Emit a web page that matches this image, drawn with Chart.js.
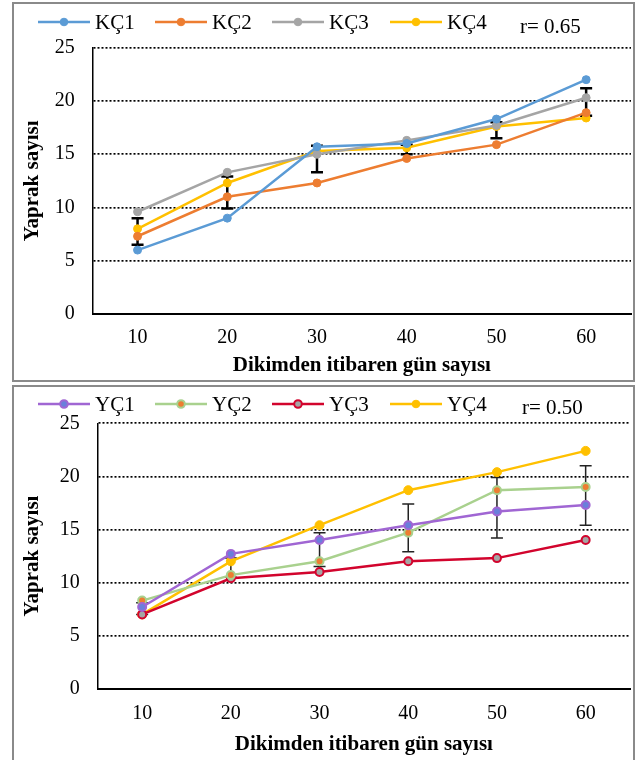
<!DOCTYPE html>
<html><head><meta charset="utf-8">
<script src="https://cdn.jsdelivr.net/npm/chart.js@4.4.0/dist/chart.umd.min.js"></script>
<style>
html,body{margin:0;padding:0;background:#fff;width:636px;height:760px;overflow:hidden;}
#w1{position:absolute;left:0;top:0;width:636px;height:383px;}
#w2{position:absolute;left:0;top:383px;width:636px;height:377px;}
.panel{position:absolute;border:2px solid #8a8a8a;box-sizing:border-box;pointer-events:none;}
</style></head><body>
<div id="w1"><canvas id="c1" width="636" height="383"></canvas></div>
<div id="w2"><canvas id="c2" width="636" height="377"></canvas></div>
<div class="panel" style="left:12px;top:2px;width:623px;height:380px"></div>
<div class="panel" style="left:12px;top:385px;width:623px;height:385px"></div>
<script>
// ---- data ----
const days = ['10', '20', '30', '40', '50', '60'];
const yTicks = [0, 5, 10, 15, 20, 25];
const kcLabels = ['KÇ1', 'KÇ2', 'KÇ3', 'KÇ4'];
const kc1 = [6.0, 9.0, 15.7, 16.0, 18.3, 22.0];
const kc2 = [7.3, 11.0, 12.3, 14.6, 15.9, 18.9];
const kc3 = [9.6, 13.3, 15.0, 16.3, 17.7, 20.3];
const kc4 = [8.0, 12.3, 15.3, 15.6, 17.6, 18.4];
const kcErrLow  = [6.5, 9.9, 13.3, 15.0, 16.5, 18.6];
const kcErrHigh = [9.0, 12.9, 15.8, 15.9, 18.0, 21.2];
const kcR = 'r= 0.65';

const ycLabels = ['YÇ1', 'YÇ2', 'YÇ3', 'YÇ4'];
const yc1 = [7.7, 12.7, 14.0, 15.4, 16.7, 17.3];
const yc2 = [8.3, 10.7, 12.0, 14.7, 18.7, 19.0];
const yc3 = [7.0, 10.4, 11.0, 12.0, 12.3, 14.0];
const yc4 = [7.0, 12.0, 15.4, 18.7, 20.4, 22.4];
const ycErrLow  = [7.0, 10.5, 11.5, 12.9, 14.2, 15.4];
const ycErrHigh = [8.1, 12.3, 14.7, 17.4, 19.9, 21.0];
const ycR = 'r= 0.50';

const xTitle = 'Dikimden itibaren gün sayısı';
const yTitle = 'Yaprak sayısı';

Chart.defaults.font.family = "'Liberation Serif', 'Times New Roman', serif";
Chart.defaults.color = '#000';

function errorBarPlugin(low, high, color, width, cap) {
  return {
    id: 'errorBars',
    beforeDatasetsDraw(chart) {
      const {ctx, scales: {x, y}} = chart;
      ctx.save();
      ctx.strokeStyle = color; ctx.lineWidth = width;
      low.forEach((lo, i) => {
        const px = x.getPixelForValue(i);
        const p1 = y.getPixelForValue(lo), p2 = y.getPixelForValue(high[i]);
        ctx.beginPath();
        ctx.moveTo(px, p1); ctx.lineTo(px, p2);
        ctx.moveTo(px - cap, p1); ctx.lineTo(px + cap, p1);
        ctx.moveTo(px - cap, p2); ctx.lineTo(px + cap, p2);
        ctx.stroke();
      });
      ctx.restore();
    }
  };
}

function legendPlugin(xs, ly, rText, rx, ry) {
  return {
    id: 'customLegend',
    afterDraw(chart) {
      const ctx = chart.ctx;
      ctx.save();
      ctx.font = "21px 'Liberation Serif', serif";
      ctx.textBaseline = 'middle';
      ctx.textAlign = 'left';
      chart.data.datasets.forEach((ds, i) => {
        const x0 = xs[i];
        ctx.strokeStyle = ds.borderColor; ctx.lineWidth = 2.5;
        ctx.beginPath(); ctx.moveTo(x0, ly); ctx.lineTo(x0 + 52, ly); ctx.stroke();
        ctx.beginPath(); ctx.arc(x0 + 26, ly, 3.8, 0, Math.PI * 2);
        ctx.fillStyle = ds.pointBackgroundColor; ctx.fill();
        ctx.lineWidth = ds.pointBorderWidth; ctx.strokeStyle = ds.pointBorderColor; ctx.stroke();
        ctx.fillStyle = '#000';
        ctx.fillText(ds.label, x0 + 57, ly + 1);
      });
      ctx.fillText(rText, rx, ry);
      ctx.restore();
    }
  };
}

function ds(label, data, line, fill, border, bw, r) {
  return {label, data, borderColor: line, backgroundColor: line, borderWidth: 2.5,
    pointBackgroundColor: fill, pointBorderColor: border, pointBorderWidth: bw,
    pointRadius: r, pointHoverRadius: r, tension: 0};
}

function makeOptions(cfg) {
  return {
    responsive: false, animation: false,
    layout: {padding: {left: 0, right: cfg.padR, top: cfg.padT, bottom: 0}},
    plugins: {legend: {display: false}, tooltip: {enabled: false}},
    scales: {
      x: {
        type: 'category', offset: true,
        grid: {display: false, drawTicks: false},
        border: {display: true, color: '#000', width: 2},
        ticks: {font: {size: 20}, color: '#000', padding: cfg.xTickPad, maxRotation: 0},
        title: {display: true, text: xTitle, color: '#000', font: {size: 21, weight: 'bold'}, padding: {top: 0, bottom: cfg.xTitlePad}},
        afterFit: s => { s.height = cfg.xH; }
      },
      y: {
        min: 0, max: 25,
        afterBuildTicks: s => { s.ticks = yTicks.map(v => ({value: v})); },
        grid: {drawTicks: false, lineWidth: 1.7, color: c => (c.tick && c.tick.value === 0) ? 'rgba(0,0,0,0)' : '#000'},
        border: {display: true, color: '#000', width: 1.5, dash: [2, 2]},
        ticks: {font: {size: 20}, color: '#000', padding: cfg.yTickPad},
        title: {display: true, text: yTitle, color: '#000', font: {size: 21, weight: 'bold'}, padding: {top: 20, bottom: 0}},
        afterFit: s => { s.width = cfg.yW; }
      }
    }
  };
}

new Chart(document.getElementById('c1'), {
  type: 'line',
  data: {
    labels: days,
    datasets: [
      ds(kcLabels[0], kc1, '#5B9BD5', '#5B9BD5', '#5B9BD5', 1, 4),
      ds(kcLabels[1], kc2, '#ED7D31', '#ED7D31', '#ED7D31', 1, 4),
      ds(kcLabels[2], kc3, '#A5A5A5', '#A5A5A5', '#A5A5A5', 1, 4),
      ds(kcLabels[3], kc4, '#FFC000', '#FFC000', '#FFC000', 1, 4)
    ]
  },
  options: makeOptions({padR: 3, padT: 47.7, xH: 69, yW: 92.7, xTickPad: 12, xTitlePad: 5, yTickPad: 18}),
  plugins: [errorBarPlugin(kcErrLow, kcErrHigh, '#000', 2.5, 6),
            legendPlugin([38, 155, 272, 390], 22, kcR, 520, 27)]
});

new Chart(document.getElementById('c2'), {
  type: 'line',
  data: {
    labels: days,
    datasets: [
      ds(ycLabels[0], yc1, '#A066D3', '#6A7FDB', '#A066D3', 2, 4),
      ds(ycLabels[1], yc2, '#A9D18E', '#ED7D31', '#A9D18E', 2, 4),
      ds(ycLabels[2], yc3, '#D2042D', '#A5A5A5', '#D2042D', 2, 4),
      ds(ycLabels[3], yc4, '#FFC000', '#FFC000', '#FFC000', 1, 4.5)
    ]
  },
  options: makeOptions({padR: 5, padT: 40.3, xH: 71.3, yW: 97.8, xTickPad: 13, xTitlePad: 2.5, yTickPad: 18}),
  plugins: [errorBarPlugin(ycErrLow, ycErrHigh, '#222', 1.5, 6),
            legendPlugin([38, 155, 272, 390], 21, ycR, 522, 25)]
});
</script>
</body></html>
